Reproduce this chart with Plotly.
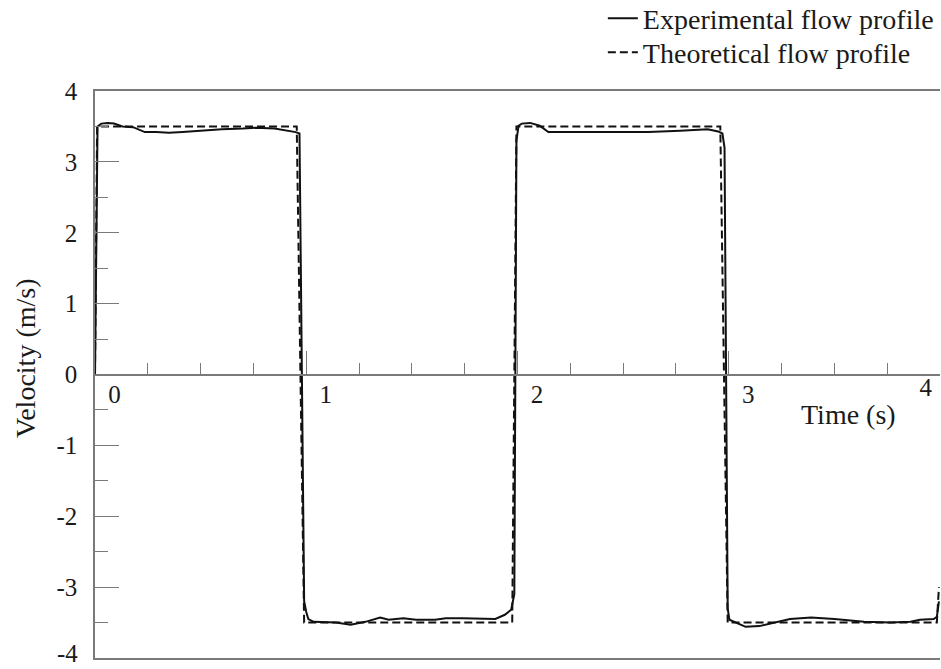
import plotly.graph_objects as go

# Experimental flow profile (time s, velocity m/s)
exp_t = [0.0, 0.012, 0.03, 0.06, 0.09, 0.13, 0.18, 0.236, 0.29, 0.35, 0.415, 0.5, 0.6, 0.7, 0.76,
         0.85, 0.89, 0.95, 0.968, 0.99, 1.0, 1.01, 1.035, 1.14, 1.21, 1.28, 1.35, 1.39, 1.46, 1.52,
         1.61, 1.66, 1.74, 1.895, 1.94, 1.97, 1.985, 1.995, 2.005, 2.02, 2.06, 2.105, 2.146, 2.30,
         2.46, 2.62, 2.77, 2.90, 2.95, 2.97, 2.98, 2.995, 3.003, 3.025, 3.08, 3.145, 3.23, 3.29,
         3.39, 3.50, 3.64, 3.765, 3.86, 3.905, 3.97, 3.985, 3.995]
exp_v = [0.0, 3.50, 3.54, 3.55, 3.54, 3.50, 3.49, 3.42, 3.42, 3.41, 3.42, 3.44, 3.46, 3.47, 3.48,
         3.47, 3.45, 3.42, 3.40, -3.20, -3.35, -3.45, -3.49, -3.50, -3.53, -3.49, -3.43, -3.46, -3.44, -3.46,
         -3.46, -3.44, -3.44, -3.45, -3.39, -3.32, -3.10, 3.30, 3.51, 3.54, 3.55, 3.51, 3.42, 3.42,
         3.43, 3.42, 3.44, 3.46, 3.43, 3.40, 3.20, -3.30, -3.46, -3.49, -3.56, -3.55, -3.49, -3.45,
         -3.43, -3.45, -3.49, -3.50, -3.49, -3.46, -3.45, -3.42, -3.20]

# Theoretical flow profile
th_t = [0.0, 0.01, 0.955, 0.99, 1.975, 1.995, 2.96, 2.995, 3.985, 3.995]
th_v = [0.0, 3.5, 3.5, -3.5, -3.5, 3.5, 3.5, -3.5, -3.5, -3.0]

x_major = [0, 1, 2, 3]
x_edge = [4]
y_major = [-3, -2, -1, 0, 1, 2, 3, 4]
y_bottom = -4

FONT = "Liberation Serif"
AX = "#7a7a7a"
TXT = "#1a1a1a"

fig = go.Figure()
fig.add_trace(go.Scatter(x=exp_t, y=exp_v, mode="lines", name="Experimental flow profile",
                         line=dict(color="#111111", width=2), legend="legend"))
fig.add_trace(go.Scatter(x=th_t, y=th_v, mode="lines", name="Theoretical flow profile",
                         line=dict(color="#111111", width=2, dash="8px,4px"), legend="legend2"))

leg_common = dict(x=0.601, xanchor="left", yanchor="top",
                  font=dict(family=FONT, size=28, color=TXT),
                  bgcolor="rgba(0,0,0,0)", itemwidth=30)

fig.update_layout(
    width=941, height=669,
    margin=dict(l=95, r=1, t=91, b=11, autoexpand=False),
    plot_bgcolor="white", paper_bgcolor="white",
    font=dict(family=FONT, color=TXT, size=25),
    showlegend=True,
    legend=dict(y=1.172, **leg_common),
    legend2=dict(y=1.112, **leg_common),
    xaxis=dict(range=[0, 4], showline=True, mirror=True, linecolor=AX, linewidth=1.5,
               ticks="", showticklabels=False, showgrid=False, zeroline=False),
    xaxis2=dict(overlaying="x", matches="x", anchor="free", position=0.5, side="bottom",
                showline=True, linecolor=AX, linewidth=1.5, showgrid=False, zeroline=False,
                tickmode="array", tickvals=x_major, ticktext=[str(v) for v in x_major],
                ticks="inside", ticklen=23, tickcolor=AX, tickwidth=1.2,
                ticklabelposition="outside right", ticklabelstandoff=-2, ticklabelshift=12,
                tickfont=dict(family=FONT, size=25, color=TXT),
                minor=dict(dtick=0.25, tick0=0, ticks="inside", ticklen=11, tickcolor=AX, tickwidth=1.2)),
    xaxis3=dict(overlaying="x", matches="x", anchor="free", position=0.5, side="bottom",
                showline=False, showgrid=False, zeroline=False, ticks="",
                tickmode="array", tickvals=x_edge, ticktext=[str(v) for v in x_edge],
                ticklabelposition="outside left", ticklabelstandoff=-5, ticklabelshift=-8,
                tickfont=dict(family=FONT, size=25, color=TXT)),
    yaxis=dict(range=[-4, 4], showline=True, linecolor=AX, linewidth=1.5, showgrid=False,
               zeroline=False, tickmode="array", tickvals=y_major,
               ticktext=[str(v) for v in y_major],
               ticks="inside", ticklen=24, tickcolor=AX, tickwidth=1.2, ticklabelstandoff=11,
               tickfont=dict(family=FONT, size=25, color=TXT),
               minor=dict(dtick=0.5, tick0=0, ticks="inside", ticklen=13, tickcolor=AX, tickwidth=1.2)),
    annotations=[
        dict(text="Velocity (m/s)", textangle=-90, xref="paper", yref="paper",
             x=-0.083, y=0.529, xanchor="center", yanchor="middle", showarrow=False,
             font=dict(family=FONT, size=28, color=TXT)),
        dict(text="Time (s)", xref="x", yref="y", x=3.569, y=-0.571,
             xanchor="center", yanchor="middle", showarrow=False,
             font=dict(family=FONT, size=28, color=TXT)),
        dict(text=str(y_bottom), xref="paper", yref="y", x=-0.0195, y=y_bottom,
             xanchor="right", yanchor="bottom", yshift=-10, borderpad=0, showarrow=False,
             font=dict(family=FONT, size=25, color=TXT)),
    ],
)
# invisible traces to activate the overlay axes
fig.add_trace(go.Scatter(x=[0, 4], y=[0, 0], xaxis="x2", mode="lines", line=dict(width=0),
                         hoverinfo="skip", showlegend=False))
fig.add_trace(go.Scatter(x=[0, 4], y=[0, 0], xaxis="x3", mode="lines", line=dict(width=0),
                         hoverinfo="skip", showlegend=False))

fig.write_html("out.html")
